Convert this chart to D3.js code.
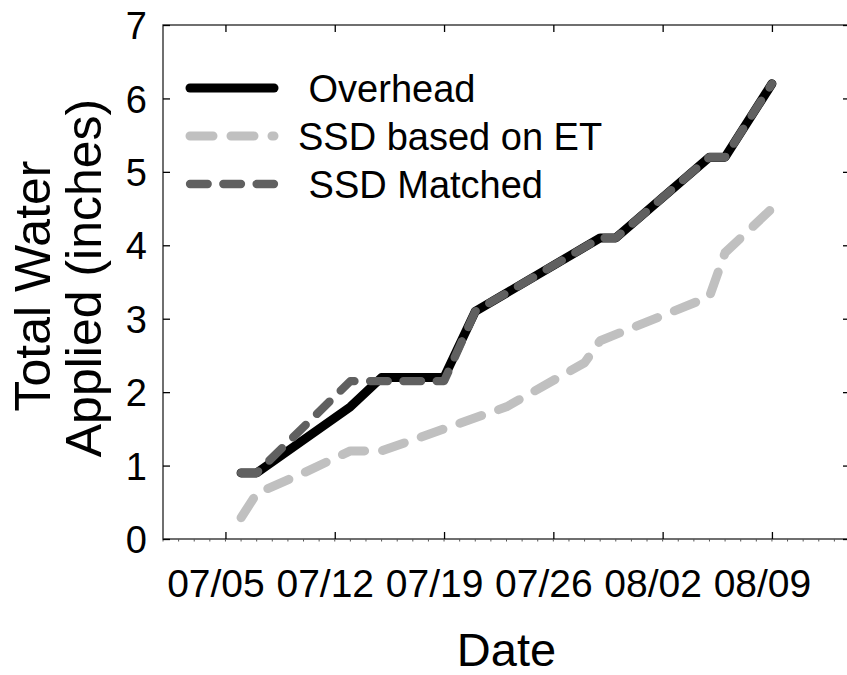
<!DOCTYPE html>
<html>
<head>
<meta charset="utf-8">
<script src="https://cdn.jsdelivr.net/npm/d3@7"></script>
<style>
  html, body { margin: 0; padding: 0; background: #fff; }
  svg { display: block; font-family: "Liberation Sans", Arial, sans-serif; }
</style>
</head>
<body>
<svg id="chart" width="847" height="675"></svg>
<script>
// ---- data ----
const overheadDates  = ["07/06","07/07","07/13","07/15","07/19","07/21","07/29","07/30","08/05","08/06","08/09"];
const overheadValues = [0.9, 0.9, 1.8, 2.2, 2.2, 3.1, 4.1, 4.1, 5.2, 5.2, 6.2];

const etDates  = ["07/06","07/07","07/10","07/13","07/15","07/19","07/23","07/28","07/29","08/05","08/06","08/09"];
const etValues = [0.29, 0.62, 0.9, 1.2, 1.2, 1.5, 1.8, 2.4, 2.7, 3.3, 3.9, 4.5];

const matchedDates  = ["07/06","07/07","07/13","07/19","07/21","07/29","07/30","08/05","08/06","08/09"];
const matchedValues = [0.9, 0.9, 2.15, 2.15, 3.1, 4.1, 4.1, 5.2, 5.2, 6.2];

const xTickLabels = ["07/05","07/12","07/19","07/26","08/02","08/09"];
const yTickLabels = [0,1,2,3,4,5,6,7];
const legendLabels = [" Overhead", "SSD based on ET", " SSD Matched"];

(function () {
const YEAR = 2012;
const parseMD = s => { const [m, d] = s.split("/").map(Number); return new Date(YEAR, m - 1, d); };
const zip = (ds, vs) => ds.map((d, i) => ({ date: parseMD(d), value: vs[i] }));

const series = [
  { name: legendLabels[0], data: zip(overheadDates, overheadValues), color: "#000000", width: 9, dash: null },
  { name: legendLabels[1], data: zip(etDates, etValues), color: "#c0c0c0", width: 9, dash: "23,18" },
  { name: legendLabels[2], data: zip(matchedDates, matchedValues), color: "#606060", width: 8.3, dash: "17.7,15.6" }
];

const svg = d3.select("#chart");
const mL = 163, mR = 850, mT = 25, mB = 539;

const x = d3.scaleTime().domain([parseMD("07/01"), parseMD("08/14")]).range([mL, mR]);
const y = d3.scaleLinear().domain([0, 7]).range([mB, mT]);

// frame
svg.append("rect").attr("x", mL).attr("y", mT).attr("width", mR - mL).attr("height", mB - mT)
  .attr("fill", "none").attr("stroke", "#333").attr("stroke-width", 1.4);

// minor ticks (daily) on bottom
const minorDays = d3.timeDay.range(parseMD("07/01"), d3.timeDay.offset(parseMD("08/14"), 1));
svg.append("g").selectAll("line").data(minorDays).join("line")
  .attr("x1", d => x(d)).attr("x2", d => x(d))
  .attr("y1", mB).attr("y2", mB + 2.5)
  .attr("stroke", "#555").attr("stroke-width", 1);

const xTicks = xTickLabels.map(parseMD);

// bottom axis
const bottomAxis = d3.axisBottom(x).tickValues(xTicks).tickFormat(d3.timeFormat("%m/%d")).tickSizeInner(-7).tickSizeOuter(0);
const gb = svg.append("g").attr("transform", `translate(0,${mB})`).call(bottomAxis);
gb.select(".domain").remove();
gb.selectAll(".tick line").attr("stroke", "#000").attr("stroke-width", 1.3);
gb.selectAll(".tick text").attr("font-size", 39).attr("font-family", "Liberation Sans, Arial, sans-serif")
  .attr("fill", "#000").attr("dx", -10).attr("dy", 0).attr("y", 58);

// top axis ticks
const topAxis = d3.axisTop(x).tickValues(xTicks).tickFormat("").tickSizeInner(-7).tickSizeOuter(0);
const gt = svg.append("g").attr("transform", `translate(0,${mT})`).call(topAxis);
gt.select(".domain").remove();
gt.selectAll(".tick line").attr("stroke", "#000").attr("stroke-width", 1.3);

// left axis
const leftAxis = d3.axisLeft(y).tickValues(yTickLabels).tickFormat(d3.format("d")).tickSizeInner(-7).tickSizeOuter(0);
const gl = svg.append("g").attr("transform", `translate(${mL},0)`).call(leftAxis);
gl.select(".domain").remove();
gl.selectAll(".tick line").attr("stroke", "#000").attr("stroke-width", 1.3);
gl.selectAll(".tick text").attr("font-size", 38).attr("font-family", "Liberation Sans, Arial, sans-serif")
  .attr("fill", "#000").attr("x", -16).attr("dy", "0.36em");

// right axis
const rightAxis = d3.axisRight(y).tickValues(yTickLabels).tickFormat("").tickSizeInner(-7).tickSizeOuter(0);
const gr = svg.append("g").attr("transform", `translate(${mR},0)`).call(rightAxis);
gr.select(".domain").remove();
gr.selectAll(".tick line").attr("stroke", "#000").attr("stroke-width", 1.3);

// lines
const line = d3.line().x(d => x(d.date)).y(d => y(d.value));
const plot = svg.append("g");
series.forEach(s => {
  plot.append("path").datum(s.data)
    .attr("d", line)
    .attr("fill", "none")
    .attr("stroke", s.color)
    .attr("stroke-width", s.width)
    .attr("stroke-linecap", "round")
    .attr("stroke-linejoin", "round")
    .attr("stroke-dasharray", s.dash);
});

// legend
const legend = svg.append("g");
const legY = [88, 136, 184];
series.forEach((s, i) => {
  legend.append("line")
    .attr("x1", 190).attr("x2", 274).attr("y1", legY[i]).attr("y2", legY[i])
    .attr("stroke", s.color).attr("stroke-width", s.width)
    .attr("stroke-linecap", "round").attr("stroke-dasharray", s.dash);
  legend.append("text")
    .attr("x", 298).attr("y", legY[i] + 14)
    .attr("font-size", 38).attr("fill", "#000")
    .style("white-space", "pre")
    .text(s.name);
});

// axis titles
svg.append("text").attr("x", (mL + mR) / 2).attr("y", 666)
  .attr("text-anchor", "middle").attr("font-size", 47).attr("fill", "#000").text("Date");
const yc = (mT + mB) / 2;
svg.append("text").attr("transform", `translate(50,${yc + 4}) rotate(-90)`)
  .attr("text-anchor", "middle").attr("font-size", 50).attr("fill", "#000").text("Total Water");
svg.append("text").attr("transform", `translate(101,${yc - 4}) rotate(-90)`)
  .attr("text-anchor", "middle").attr("font-size", 50).attr("fill", "#000").text("Applied (inches)");
})();
</script>
</body>
</html>
